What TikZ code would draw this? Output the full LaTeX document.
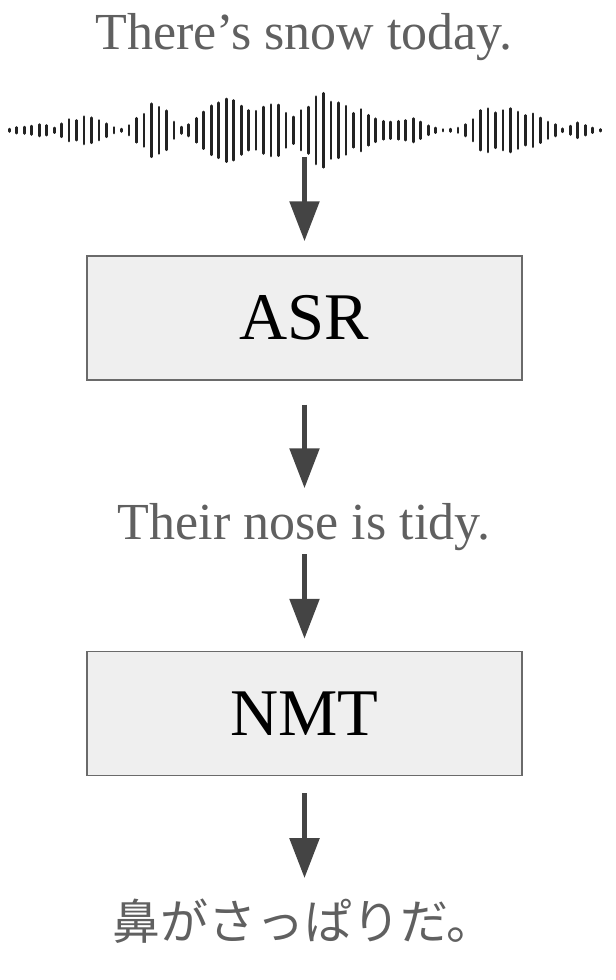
\documentclass[tikz,border=0pt]{standalone}
\usepackage{fontspec}
\setmainfont{Liberation Serif}
\newfontfamily\jafont{Noto Sans CJK JP}
\usetikzlibrary{arrows.meta}

\definecolor{textgray}{HTML}{606060}
\definecolor{boxline}{HTML}{6A6A6A}
\definecolor{boxfill}{HTML}{EFEFEF}
\definecolor{arrowgray}{HTML}{444444}
\definecolor{wavegray}{HTML}{222222}

\begin{document}
\begin{tikzpicture}[
			x=0.75pt, y=-0.75pt,
			stage/.style = {draw=boxline, fill=boxfill, line width=1.1pt, minimum width=326pt, minimum height=93pt, inner sep=0pt, font=\fontsize{50}{50}\selectfont},
			caption/.style = {text=textgray, inner sep=0pt, anchor=base, font=\fontsize{39}{39}\selectfont},
			flow/.style = {draw=arrowgray, line width=4.1pt, -{Triangle[width=21.75pt, length=30pt]}},
			bar/.style = {draw=wavegray, line width=2pt, line cap=round}
		]
		\useasboundingbox (0,0) rectangle (615,980);
		\node[caption] (src) at (304,50) {There’s snow today.};
		% waveform
		\foreach \h [count=\i] in {15,25,27,33,42,37,22,47,73,67,90,83,67,47,25,15,37,80,105,167,147,125,58,27,42,80,118,155,173,196,187,153,127,123,147,162,160,111,88,127,147,210,230,178,173,153,110,133,98,77,62,58,62,67,78,58,35,22,13,15,22,42,73,127,138,113,127,138,118,97,107,82,58,42,17,33,53,37,22,13}
			\draw[bar] ({9.3+7.48*(\i-1)},{130.3-\h/6+1.3}) -- ({9.3+7.48*(\i-1)},{130.3+\h/6-1.3});
		\coordinate (wave) at (304.5,157);
		\node[stage] (asr) at (304.5,318) {ASR};
		\node[caption] (hyp) at (304,539) {Their nose is tidy.};
		\node[stage] (nmt) at (304.5,713.5) {NMT};
		\node[caption, font=\jafont\fontsize{36}{36}\selectfont] (tgt) at (303.5,939) {鼻がさっぱりだ。};
		\draw[flow, shorten >=10.5pt] (wave) -- (asr.north);
		\draw[flow, shorten <=18pt, shorten >=10.8pt] (asr.south) -- (asr.south |- hyp.north);
		\draw[flow, shorten <=3pt, shorten >=9pt] (nmt.north |- hyp.south) -- (nmt.north);
		\draw[flow, shorten <=12.75pt, shorten >=15pt] (nmt.south) -- (nmt.south |- tgt.north);
	\end{tikzpicture}
\end{document}
